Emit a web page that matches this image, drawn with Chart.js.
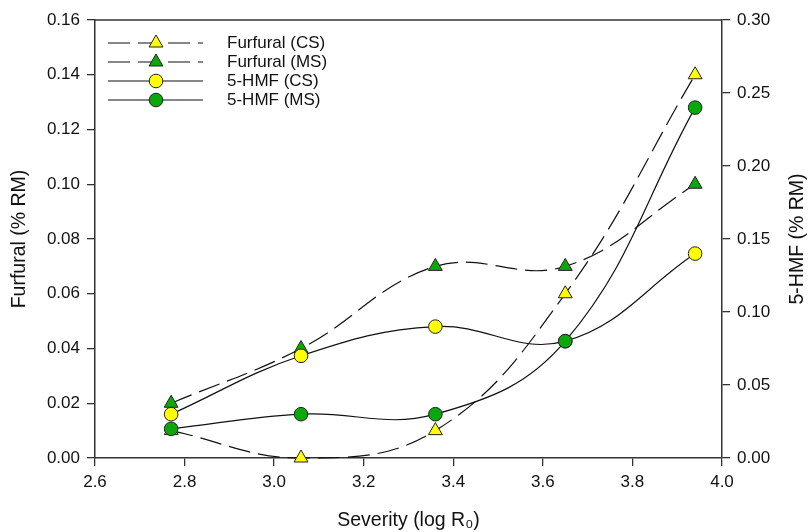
<!DOCTYPE html>
<html>
<head>
<meta charset="utf-8">
<script src="https://cdn.jsdelivr.net/npm/chart.js@4.4.1/dist/chart.umd.min.js"></script>
<style>
  html, body { margin: 0; padding: 0; background: #fff; }
  #wrap { width: 810px; height: 532px; }
</style>
</head>
<body>
<div id="wrap"><canvas id="furfural_chart" width="810" height="532"></canvas></div>
<script>
// severity (log R0) for each pretreatment
severity = [2.77, 3.06, 3.36, 3.65, 3.94]

// furfural, left axis (% RM)
furfural_cs = [0.010, 0.000, 0.010, 0.060, 0.140]
furfural_ms = [0.020, 0.040, 0.070, 0.070, 0.100]

// 5-HMF, right axis (% RM)
hmf_cs = [0.030, 0.070, 0.090, 0.080, 0.140]
hmf_ms = [0.020, 0.030, 0.030, 0.080, 0.240]

x_ticks = [2.6, 2.8, 3.0, 3.2, 3.4, 3.6, 3.8, 4.0]

series_labels = ['Furfural (CS)', 'Furfural (MS)', '5-HMF (CS)', '5-HMF (MS)']

YELLOW = '#ffff00'
GREEN = '#0aa80a'
FONT = "'Liberation Sans', Arial, sans-serif"

function pairs(ys) {
    return severity.map((x, i) => ({ x: x, y: ys[i] }))
}

function make_set(label, ys, axis, style, fill, dashed, order) {
    return {
        label: label,
        data: pairs(ys),
        yAxisID: axis,
        borderColor: '#111',
        borderWidth: 1.2,
        borderDash: dashed ? [22, 8] : [],
        tension: 0.4,
        pointStyle: style,
        pointRadius: style == 'triangle' ? 8 : 6.8,
        pointHoverRadius: style == 'triangle' ? 8 : 6.8,
        pointBackgroundColor: fill,
        pointBorderColor: '#222',
        pointBorderWidth: 1,
        fill: false,
        clip: false,
        order: order,
    }
}

datasets = [
    make_set(series_labels[0], furfural_cs, 'y', 'triangle', YELLOW, true, 3),
    make_set(series_labels[1], furfural_ms, 'y', 'triangle', GREEN, true, 2),
    make_set(series_labels[2], hmf_cs, 'y1', 'circle', YELLOW, false, 1),
    make_set(series_labels[3], hmf_ms, 'y1', 'circle', GREEN, false, 0),
]

// legend, top frame line and the right axis title drawn by hand
frame_plugin = {
    id: 'frame_plugin',
    afterDraw(chart) {
        const ctx = chart.ctx
        const area = chart.chartArea
        ctx.save()
        ctx.strokeStyle = '#333'
        ctx.lineWidth = 1.5
        ctx.beginPath()
        ctx.moveTo(area.left, area.top)
        ctx.lineTo(area.right, area.top)
        ctx.stroke()

        // right title reads bottom to top
        ctx.fillStyle = '#111'
        ctx.font = '19.5px ' + FONT
        ctx.textAlign = 'center'
        ctx.textBaseline = 'middle'
        ctx.translate(798, (area.top + area.bottom) / 2)
        ctx.rotate(-Math.PI / 2)
        ctx.fillText('5-HMF (% RM)', 0, 0)
        ctx.restore()

        // legend rows
        const rows_y = [43, 62, 81, 100]
        chart.data.datasets.forEach((ds, i) => {
            const y = rows_y[i]
            ctx.save()
            ctx.strokeStyle = ds.borderColor
            ctx.lineWidth = ds.borderWidth
            ctx.setLineDash(ds.borderDash)
            ctx.beginPath()
            ctx.moveTo(108, y)
            ctx.lineTo(203, y)
            ctx.stroke()
            ctx.setLineDash([])
            ctx.fillStyle = ds.pointBackgroundColor
            ctx.strokeStyle = ds.pointBorderColor
            ctx.lineWidth = ds.pointBorderWidth
            Chart.helpers.drawPoint(ctx, {
                pointStyle: ds.pointStyle,
                radius: ds.pointRadius,
                rotation: 0,
                borderWidth: ds.pointBorderWidth
            }, 156, y)
            ctx.fillStyle = '#111'
            ctx.font = '17px ' + FONT
            ctx.textAlign = 'left'
            ctx.textBaseline = 'middle'
            ctx.fillText(ds.label, 227, y)
            ctx.restore()
        })
    }
}

var ctx = document.getElementById('furfural_chart').getContext('2d')
myChart = new Chart(ctx, {
    type: 'line',
    data: { datasets: datasets },
    plugins: [frame_plugin],
    options: {
        responsive: false,
        animation: false,
        layout: { padding: { top: 20, left: 0, right: 0, bottom: 0 } },
        scales: {
            x: {
                type: 'linear',
                min: 2.6,
                max: 4.0,
                afterBuildTicks: (scale) => { scale.ticks = x_ticks.map(v => ({ value: v })) },
                afterFit: (scale) => { scale.height = 74 },
                ticks: {
                    color: '#111',
                    font: { family: FONT, size: 17 },
                    padding: 6,
                    maxRotation: 0,
                    callback: (v) => Number(v).toFixed(1),
                },
                grid: { drawOnChartArea: false, drawTicks: true, tickLength: 8, color: '#333', lineWidth: 1.3 },
                border: { display: true, color: '#333', width: 1.5 },
                title: {
                    display: true,
                    text: 'Severity (log R₀)',
                    color: '#111',
                    font: { family: FONT, size: 19.5 },
                    padding: { top: 0, bottom: 0 },
                },
            },
            y: {
                type: 'linear',
                position: 'left',
                min: 0,
                max: 0.16,
                afterFit: (scale) => { scale.width = 95 },
                ticks: {
                    stepSize: 0.02,
                    color: '#111',
                    font: { family: FONT, size: 17 },
                    padding: 7,
                    callback: (v) => Number(v).toFixed(2),
                },
                grid: { drawOnChartArea: false, drawTicks: true, tickLength: 8, color: '#333', lineWidth: 1.3 },
                border: { display: true, color: '#333', width: 1.5 },
                title: {
                    display: true,
                    text: 'Furfural (% RM)',
                    color: '#111',
                    font: { family: FONT, size: 19.5 },
                    padding: { top: 8, bottom: 0 },
                },
            },
            y1: {
                type: 'linear',
                position: 'right',
                min: 0,
                max: 0.30,
                afterFit: (scale) => { scale.width = 88 },
                ticks: {
                    stepSize: 0.05,
                    color: '#111',
                    font: { family: FONT, size: 17 },
                    padding: 7,
                    callback: (v) => Number(v).toFixed(2),
                },
                grid: { drawOnChartArea: false, drawTicks: true, tickLength: 8, color: '#333', lineWidth: 1.3 },
                border: { display: true, color: '#333', width: 1.5 },
            },
        },
        plugins: {
            legend: { display: false },
            tooltip: { enabled: false },
        },
    },
})
</script>
</body>
</html>
